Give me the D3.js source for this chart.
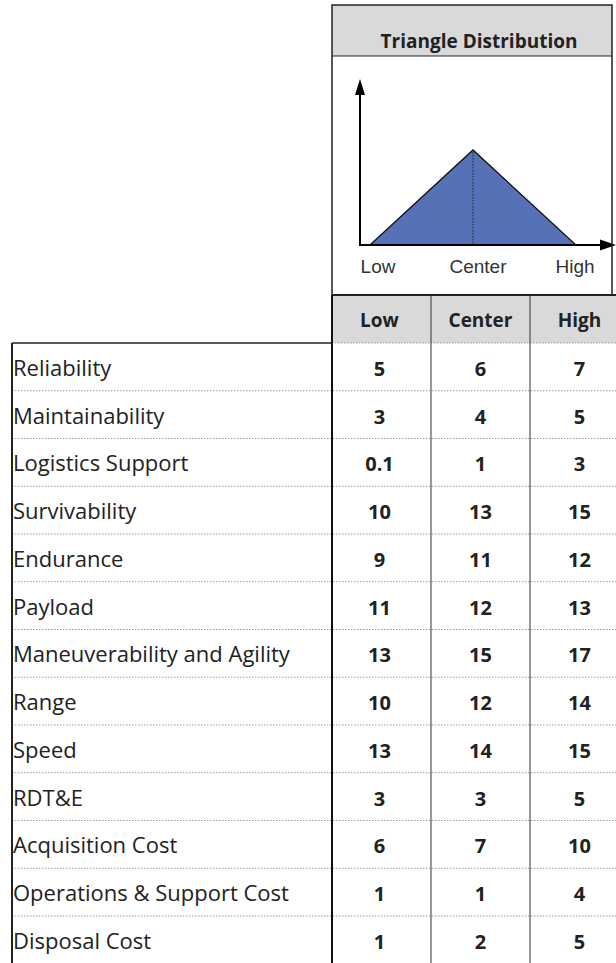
<!DOCTYPE html>
<html><head><meta charset="utf-8">
<script src="https://cdn.jsdelivr.net/npm/d3@7"></script>
<style>
html,body{margin:0;padding:0;background:#fff;}
svg{display:block;}
</style></head>
<body>
<svg id="c" width="616" height="963"></svg>
<script>
const categories = ["Reliability","Maintainability","Logistics Support","Survivability","Endurance","Payload","Maneuverability and Agility","Range","Speed","RDT&E","Acquisition Cost","Operations & Support Cost","Disposal Cost"];
const lowValues = ["5","3","0.1","10","9","11","13","10","13","3","6","1","1"];
const centerValues = ["6","4","1","13","11","12","15","12","14","3","7","1","2"];
const highValues = ["7","5","3","15","12","13","17","14","15","5","10","4","5"];
const columns = ["Low","Center","High"];
const triangleHeights = [0, 1, 0];
const title = "Triangle Distribution";

const svg = d3.select("#c");
const font = "'Open Sans', 'Noto Sans', sans-serif";

// layout
const leftX = 12, colX0 = 332, colW = 99;
const headTop = 295, headBottom = 343;
const rows = d3.scaleBand().domain(categories).range([headBottom, 963.75]);
const cols = d3.scaleBand().domain(columns).range([colX0, colX0 + colW * 3]);

// top box
const boxL = 332, boxR = 612, boxT = 5, boxB = 295;
svg.append("rect").attr("x", boxL).attr("y", boxT).attr("width", boxR - boxL).attr("height", 51)
  .attr("fill", "#d9d9d9");
svg.append("line").attr("x1", boxL).attr("x2", boxR).attr("y1", 56).attr("y2", 56).attr("stroke", "#222").attr("stroke-width", 1.2);
svg.append("text").attr("x", 479).attr("y", 48).attr("text-anchor", "middle")
  .attr("font-family", font).attr("font-weight", "bold").attr("font-size", 19).attr("fill", "#222").text(title);

// triangle chart
const tx = d3.scalePoint().domain(columns).range([370, 576]);
const ty = d3.scaleLinear().domain([0, 1]).range([245, 150]);
const tri = columns.map((c, i) => [tx(c), ty(triangleHeights[i])]);
svg.append("path").attr("d", d3.line()(tri) + "Z").attr("fill", "#5672b6").attr("stroke", "#111").attr("stroke-width", 1.3);
svg.append("line").attr("x1", tx("Center")).attr("x2", tx("Center")).attr("y1", ty(1) + 2).attr("y2", ty(0))
  .attr("stroke", "#222").attr("stroke-width", 1).attr("stroke-dasharray", "1.5,1.5");
// axes
svg.append("line").attr("x1", 360).attr("x2", 360).attr("y1", 246).attr("y2", 92).attr("stroke", "#000").attr("stroke-width", 2);
svg.append("path").attr("d", "M360,79 L355,95 L365,95 Z").attr("fill", "#000");
svg.append("line").attr("x1", 359).attr("x2", 602).attr("y1", 245).attr("y2", 245).attr("stroke", "#000").attr("stroke-width", 2);
svg.append("path").attr("d", "M616,245 L600,239.5 L600,250.5 Z").attr("fill", "#000");
const labelX = {Low: 378, Center: 478, High: 575};
svg.selectAll("text.tl").data(columns).join("text").attr("class", "tl")
  .attr("x", d => labelX[d]).attr("y", 273).attr("text-anchor", "middle")
  .attr("font-family", "'Liberation Sans', Arial, sans-serif").attr("font-size", 19).attr("fill", "#333").text(d => d);

// top box border
svg.append("path").attr("d", `M${boxL},${boxB} L${boxL},${boxT} L${boxR},${boxT} L${boxR},${boxB}`)
  .attr("fill", "none").attr("stroke", "#222").attr("stroke-width", 1.5);

// column header row
svg.append("rect").attr("x", colX0).attr("y", headTop).attr("width", colW * 3).attr("height", headBottom - headTop).attr("fill", "#d9d9d9");
svg.selectAll("text.ch").data(columns).join("text").attr("class", "ch")
  .attr("x", d => cols(d) + cols.bandwidth() / 2 - (d === "Low" ? 2 : 0)).attr("y", 327).attr("text-anchor", "middle")
  .attr("font-family", font).attr("font-weight", "bold").attr("font-size", 19).attr("fill", "#222").text(d => d);
svg.append("line").attr("x1", colX0).attr("x2", 616).attr("y1", headTop).attr("y2", headTop).attr("stroke", "#222").attr("stroke-width", 2);

// dotted row separators
const seps = [headBottom].concat(categories.slice(0, -1).map(c => rows(c) + rows.bandwidth()));
svg.selectAll("line.sep").data(seps).join("line").attr("class", "sep")
  .attr("x1", (d, i) => i === 0 ? colX0 : leftX).attr("x2", 616).attr("y1", d => d).attr("y2", d => d)
  .attr("stroke", "#9a9a9a").attr("stroke-width", 1).attr("stroke-dasharray", "1.5,1.5");

// left table top border
svg.append("line").attr("x1", leftX).attr("x2", colX0).attr("y1", headBottom).attr("y2", headBottom).attr("stroke", "#222").attr("stroke-width", 1.5);
svg.append("line").attr("x1", leftX).attr("x2", leftX).attr("y1", headBottom).attr("y2", 963).attr("stroke", "#222").attr("stroke-width", 2);

// column vertical lines
svg.append("line").attr("x1", colX0).attr("x2", colX0).attr("y1", headTop).attr("y2", 963).attr("stroke", "#111").attr("stroke-width", 2);
svg.selectAll("line.cv").data(columns.slice(1)).join("line").attr("class", "cv")
  .attr("x1", d => cols(d)).attr("x2", d => cols(d)).attr("y1", headTop).attr("y2", 963)
  .attr("stroke", "#333").attr("stroke-width", 1);

// labels
svg.selectAll("text.lab").data(categories).join("text").attr("class", "lab")
  .attr("x", leftX + 1).attr("y", d => rows(d) + rows.bandwidth() / 2 + 9)
  .attr("font-family", font).attr("font-size", 22).attr("fill", "#222").text(d => d);

// values
const valueSets = [lowValues, centerValues, highValues];
columns.forEach((col, ci) => {
  svg.selectAll("text.v" + ci).data(categories).join("text").attr("class", "v" + ci)
    .attr("x", cols(col) + cols.bandwidth() / 2 - (ci === 0 ? 2 : 0)).attr("y", d => rows(d) + rows.bandwidth() / 2 + 9)
    .attr("text-anchor", "middle").attr("font-family", font).attr("font-weight", "bold").attr("font-size", 20).attr("fill", "#222")
    .text((d, i) => valueSets[ci][i]);
});
</script>
</body></html>
